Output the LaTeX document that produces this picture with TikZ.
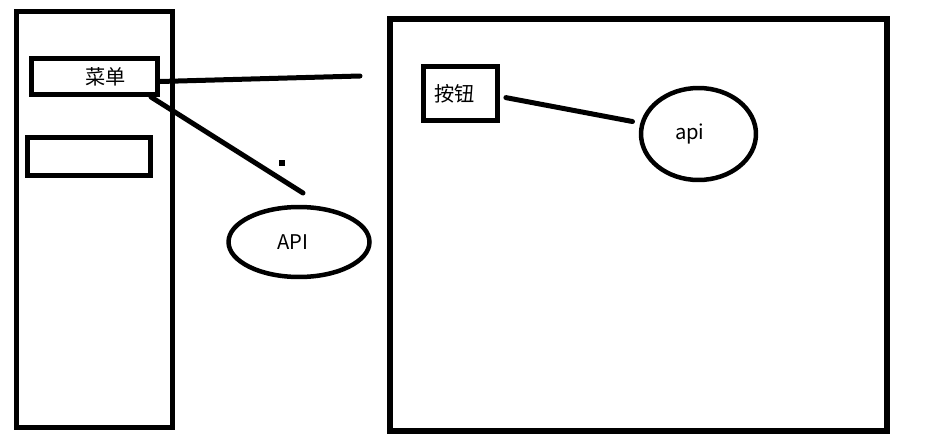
\documentclass[tikz,border=0pt]{standalone}
\usepackage{fontspec}
\setmainfont{Noto Sans CJK SC}
\usetikzlibrary{shapes.geometric}

\begin{document}
\begin{tikzpicture}[
        x=0.02cm, y=-0.02cm,
        panelNode/.style={
            rectangle,
            draw,
            line width=0.11cm,
            inner sep=0pt
        },
        boxNode/.style={
            rectangle,
            draw,
            line width=0.1cm,
            inner sep=0pt,
            font=\fontsize{11.5}{13}\selectfont
        },
        apiNode/.style={
            ellipse,
            draw,
            line width=0.09cm,
            inner sep=0pt,
            font=\fontsize{11.5}{13}\selectfont
        },
        line/.style={
            line width=0.1cm,
            line cap=round
        }
    ]
        \useasboundingbox (0,0) rectangle (937,443);

        \node[panelNode, minimum width=3.12cm, minimum height=8.32cm] (leftPanel) at (94.5,219.5) {};
        \node[panelNode, minimum width=9.94cm, minimum height=8.24cm] (rightPanel) at (638.5,225) {};

        \node[boxNode, minimum width=2.52cm, minimum height=0.72cm] (menu) at (94.5,76.5) {\hspace*{0.45cm}菜单};
        \node[boxNode, minimum width=2.46cm, minimum height=0.76cm] (emptyBox) at (89,156.5) {};
        \node[boxNode, minimum width=1.48cm, minimum height=1.08cm] (button) at (460.5,93.5) {按钮\hspace*{0.25cm}};

        \node[apiNode, minimum width=2.82cm, minimum height=1.4cm] (bigApi) at (299,242) {API\hspace*{0.25cm}};
        \node[apiNode, minimum width=2.3cm, minimum height=1.84cm] (smallApi) at (698.5,134) {api\hspace*{0.35cm}};

        \node[fill, minimum size=0.12cm, inner sep=0pt] (dot) at (282,163) {};

        \coordinate (menuEnd) at (360,76);
        \coordinate (menuDown) at (303,193);

        \draw[line] ([yshift=-0.1cm]menu.east) -- (menuEnd);
        \draw[line] ([xshift=-0.18cm]menu.south east) -- (menuDown);
        \draw[line, shorten <=0.12cm, shorten >=0.16cm] ([yshift=-0.06cm]button.east) -- (smallApi);

    \end{tikzpicture}
\end{document}
